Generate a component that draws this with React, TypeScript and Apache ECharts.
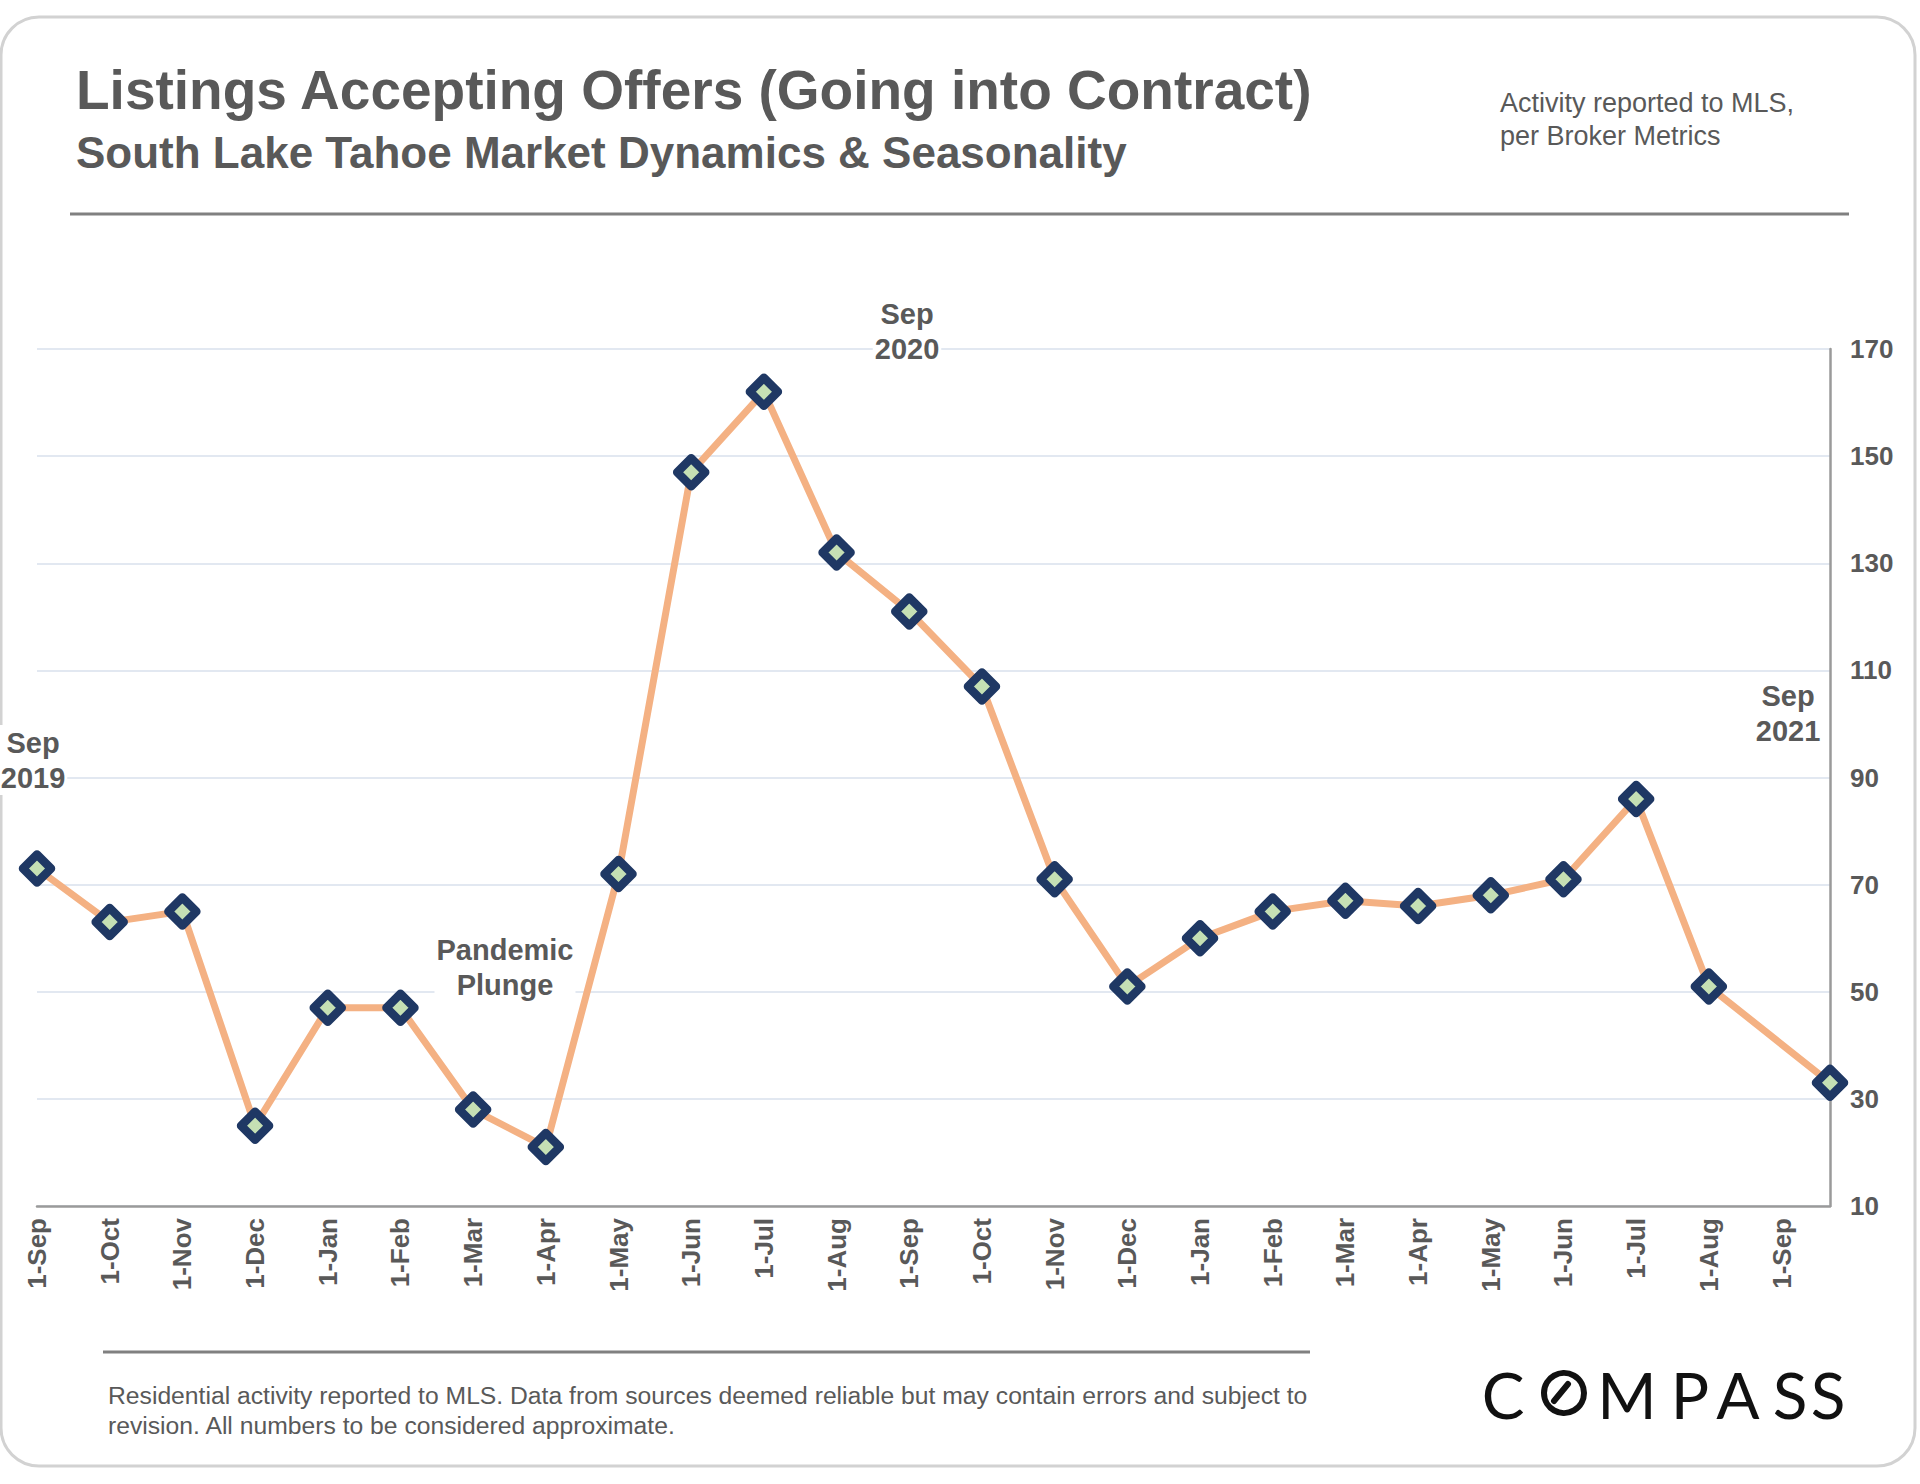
import React, { useEffect, useRef } from 'react';
import * as echarts from 'echarts';

// ---- data ----
const monthLabels = [
  '1-Sep', '1-Oct', '1-Nov', '1-Dec', '1-Jan', '1-Feb', '1-Mar', '1-Apr', '1-May',
  '1-Jun', '1-Jul', '1-Aug', '1-Sep', '1-Oct', '1-Nov', '1-Dec', '1-Jan', '1-Feb',
  '1-Mar', '1-Apr', '1-May', '1-Jun', '1-Jul', '1-Aug', '1-Sep',
];
const pointDates = [
  '2019-09-01', '2019-10-01', '2019-11-01', '2019-12-01', '2020-01-01', '2020-02-01',
  '2020-03-01', '2020-04-01', '2020-05-01', '2020-06-01', '2020-07-01', '2020-08-01',
  '2020-09-01', '2020-10-01', '2020-11-01', '2020-12-01', '2021-01-01', '2021-02-01',
  '2021-03-01', '2021-04-01', '2021-05-01', '2021-06-01', '2021-07-01', '2021-08-01',
  '2021-09-21',
];
const listingsAccepting = [
  73, 63, 65, 25, 47, 47, 28, 21, 72, 147, 162, 132, 121, 107, 71, 51, 60, 65, 67, 66,
  68, 71, 86, 51, 33,
];
const yTickValues = [10, 30, 50, 70, 90, 110, 130, 150, 170];
const titleText = 'Listings Accepting Offers (Going into Contract)';
const subtitleText = 'South Lake Tahoe Market Dynamics & Seasonality';
const sourceNote = 'Activity reported to MLS,\nper Broker Metrics';
const footerNote =
  'Residential activity reported to MLS. Data from sources deemed reliable but may contain errors and subject to\nrevision. All numbers to be considered approximate.';
const annotationTexts = ['Sep\n2019', 'Sep\n2020', 'Sep\n2021', 'Pandemic\nPlunge'];

// month offset from the first label (Sep 2019)
function monthIndex(d: string): number {
  const [y, m, day] = d.split('-').map(Number);
  return (y - 2019) * 12 + (m - 9) + (day - 1) / 30;
}

const FONT = '"Liberation Sans", Arial, Helvetica, sans-serif';
const TEXT_GRAY = '#595959';

export default function App() {
  const ref = useRef<HTMLDivElement>(null);

  useEffect(() => {
    if (!ref.current) return;
    const chart = echarts.init(ref.current, undefined, { renderer: 'svg' });

    const xs = pointDates.map(monthIndex);
    const seriesData = xs.map((x, i) => [x, listingsAccepting[i]]);
    const xMax = xs[xs.length - 1];
    const yMin = yTickValues[0];
    const yMax = yTickValues[yTickValues.length - 1];
    const yStep = (yTickValues[1] - yTickValues[0]) / 2;

    const annoStyle = {
      fill: TEXT_GRAY,
      fontFamily: FONT,
      fontWeight: 'bold',
      fontSize: 29,
      lineHeight: 35,
      textAlign: 'center',
      textVerticalAlign: 'middle',
      backgroundColor: '#ffffff',
      padding: [0, 2],
    };
    const annoPos = [
      [33, 760],
      [907, 331],
      [1788, 713],
      [505, 967],
    ];

    const logoLetters = [
      { ch: 'C', x: 1503 },
      { ch: 'M', x: 1627 },
      { ch: 'P', x: 1690 },
      { ch: 'A', x: 1738 },
      { ch: 'S', x: 1790 },
      { ch: 'S', x: 1828 },
    ];

    const graphics: any[] = [
      {
        type: 'rect',
        shape: { x: 1, y: 17, width: 1914, height: 1449, r: 38 },
        style: { fill: 'none', stroke: '#d2d2d2', lineWidth: 3 },
        silent: true,
        z: -10,
      },
      {
        type: 'text',
        x: 76,
        y: 90,
        style: {
          text: titleText,
          fill: TEXT_GRAY,
          fontFamily: FONT,
          fontWeight: 'bold',
          fontSize: 55,
          textVerticalAlign: 'middle',
        },
      },
      {
        type: 'text',
        x: 76,
        y: 152,
        style: {
          text: subtitleText,
          fill: TEXT_GRAY,
          fontFamily: FONT,
          fontWeight: 'bold',
          fontSize: 44,
          textVerticalAlign: 'middle',
        },
      },
      {
        type: 'text',
        x: 1500,
        y: 119,
        style: {
          text: sourceNote,
          fill: TEXT_GRAY,
          fontFamily: FONT,
          fontSize: 27,
          lineHeight: 33,
          textVerticalAlign: 'middle',
        },
      },
      {
        type: 'line',
        shape: { x1: 70, y1: 214, x2: 1849, y2: 214 },
        style: { stroke: '#808080', lineWidth: 3 },
      },
      {
        type: 'line',
        shape: { x1: 103, y1: 1352, x2: 1310, y2: 1352 },
        style: { stroke: '#808080', lineWidth: 3 },
      },
      {
        type: 'text',
        x: 108,
        y: 1410,
        style: {
          text: footerNote,
          fill: TEXT_GRAY,
          fontFamily: FONT,
          fontSize: 24.7,
          lineHeight: 30,
          textVerticalAlign: 'middle',
        },
      },
      ...annotationTexts.map((t, i) => ({
        type: 'text',
        x: annoPos[i][0],
        y: annoPos[i][1],
        z: 10,
        style: { ...annoStyle, text: t },
      })),
      // COMPASS logo
      ...logoLetters.map((l) => ({
        type: 'text',
        x: l.x,
        y: 1394,
        style: {
          text: l.ch,
          fill: '#111111',
          fontFamily: 'Lato, "DejaVu Sans", sans-serif',
          fontSize: 64,
          textAlign: 'center',
          textVerticalAlign: 'middle',
        },
      })),
      {
        type: 'circle',
        shape: { cx: 1564, cy: 1393, r: 20 },
        style: { fill: 'none', stroke: '#111111', lineWidth: 6 },
      },
      {
        type: 'line',
        shape: { x1: 1554, y1: 1401, x2: 1568, y2: 1384 },
        style: { stroke: '#111111', lineWidth: 6, lineCap: 'round' },
      },
    ];

    chart.setOption({
      animation: false,
      backgroundColor: '#ffffff',
      grid: { left: 37, right: 90, top: 349, bottom: 278, containLabel: false },
      xAxis: {
        type: 'value',
        min: 0,
        max: xMax,
        interval: 1,
        axisLine: { show: true, onZero: false, lineStyle: { color: '#9a9a9a', width: 2.5 } },
        axisTick: { show: false },
        splitLine: { show: false },
        axisLabel: {
          rotate: 90,
          margin: 12,
          color: TEXT_GRAY,
          fontFamily: FONT,
          fontWeight: 'bold',
          fontSize: 26,
          showMaxLabel: false,
          formatter: (v: number) => {
            const r = Math.round(v);
            return Math.abs(v - r) < 1e-6 && monthLabels[r] ? monthLabels[r] : '';
          },
        },
      },
      yAxis: {
        type: 'value',
        position: 'right',
        min: yMin,
        max: yMax,
        interval: yStep,
        axisLine: { show: true, onZero: false, lineStyle: { color: '#9a9a9a', width: 2.5 } },
        axisTick: { show: false },
        splitLine: {
          show: true,
          lineStyle: { color: ['#e2e8f1', 'rgba(0,0,0,0)'], width: 2 },
        },
        axisLabel: {
          margin: 20,
          color: TEXT_GRAY,
          fontFamily: FONT,
          fontWeight: 'bold',
          fontSize: 26,
          formatter: (v: number) => (yTickValues.includes(Math.round(v)) ? String(Math.round(v)) : ''),
        },
      },
      series: [
        {
          type: 'line',
          data: seriesData,
          clip: false,
          symbol: 'diamond',
          symbolSize: 28,
          showAllSymbol: true,
          lineStyle: { color: '#f4b183', width: 7 },
          itemStyle: {
            color: '#c5e0b4',
            borderColor: '#1f3864',
            borderWidth: 8.5,
            borderJoin: 'round',
          },
          emphasis: { disabled: true },
          z: 3,
        },
      ],
      graphic: graphics,
    });

    return () => chart.dispose();
  }, []);

  return (
    <div
      ref={ref}
      style={{ position: 'absolute', left: 0, top: 0, width: 1920, height: 1484, background: '#fff' }}
    />
  );
}
